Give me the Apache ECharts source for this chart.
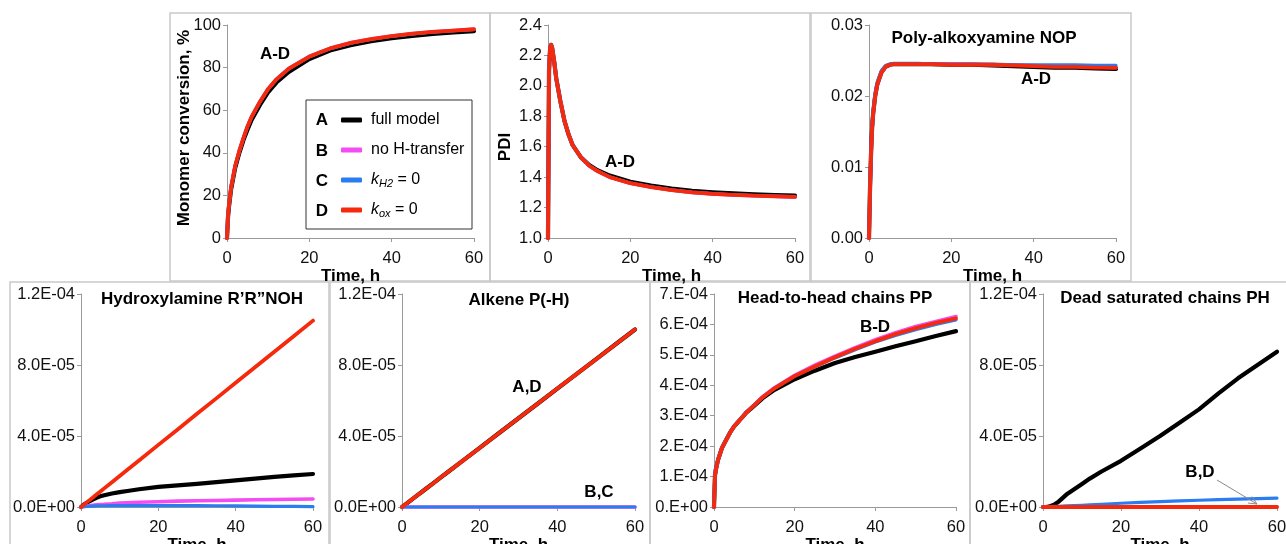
<!DOCTYPE html>
<html>
<head>
<meta charset="utf-8">
<script src="https://cdn.jsdelivr.net/npm/echarts@6/dist/echarts.min.js"></script>
<style>
html,body{margin:0;padding:0;background:#fff;}
#c{width:1286px;height:544px;}
</style>
</head>
<body>
<div id="c"></div>
<script>
// ---- data ----
const timeH = [0, 0.25, 0.5, 0.75, 1, 1.5, 2, 3, 4, 5, 6, 8, 10, 12, 15, 20, 25, 30, 35, 40, 45, 50, 55, 60];
const seriesNames = ['full model', 'no H-transfer', 'kH2 = 0', 'kox = 0'];
const seriesLetters = ['A', 'B', 'C', 'D'];

// Monomer conversion, %
const convA = [0, 10, 15, 19, 23, 28, 33, 40, 46, 51, 55.5, 62.5, 68.5, 73, 78, 84, 88, 90.5, 92.4, 93.8, 94.9, 95.8, 96.5, 97.1];
const convB = [0, 11, 16, 20, 24, 29, 34, 41, 47, 52.5, 57, 64, 70, 74.5, 79.5, 85.2, 89, 91.6, 93.4, 94.8, 95.9, 96.8, 97.4, 98];
const convC = [0, 11, 16, 20, 24, 29, 34, 41, 47, 52.5, 57, 64, 70, 74.5, 79.5, 85.1, 88.9, 91.5, 93.3, 94.7, 95.8, 96.7, 97.3, 97.9];
const convD = [0, 11, 16, 20, 24, 29, 34, 41, 47, 52.5, 57, 64, 70, 74.5, 79.5, 85.2, 89, 91.6, 93.4, 94.8, 95.9, 96.8, 97.4, 98];

// PDI
const pdiA = [1.0, 2.1, 2.24, 2.27, 2.25, 2.16, 2.05, 1.9, 1.77, 1.68, 1.61, 1.53, 1.48, 1.445, 1.41, 1.37, 1.345, 1.325, 1.31, 1.3, 1.293, 1.287, 1.282, 1.278];
const pdiB = [1.0, 2.1, 2.24, 2.27, 2.25, 2.16, 2.05, 1.9, 1.77, 1.68, 1.61, 1.53, 1.475, 1.44, 1.4, 1.36, 1.335, 1.315, 1.3, 1.29, 1.283, 1.278, 1.274, 1.27];
const pdiC = [1.0, 2.1, 2.24, 2.27, 2.25, 2.16, 2.05, 1.9, 1.77, 1.68, 1.61, 1.53, 1.475, 1.44, 1.4, 1.36, 1.335, 1.315, 1.3, 1.29, 1.283, 1.278, 1.274, 1.27];
const pdiD = [1.0, 2.1, 2.24, 2.27, 2.25, 2.16, 2.05, 1.9, 1.77, 1.68, 1.61, 1.53, 1.475, 1.44, 1.4, 1.36, 1.335, 1.315, 1.3, 1.29, 1.283, 1.278, 1.274, 1.27];

// Poly-alkoxyamine NOP
const nopA = [0, 0.007, 0.012, 0.0155, 0.0175, 0.02, 0.0216, 0.0233, 0.0241, 0.0244, 0.0245, 0.0245, 0.0245, 0.0245, 0.0245, 0.0244, 0.0244, 0.0243, 0.0242, 0.0241, 0.024, 0.024, 0.0239, 0.0238];
const nopB = [0, 0.007, 0.012, 0.0155, 0.0175, 0.02, 0.0216, 0.0233, 0.0241, 0.0244, 0.0245, 0.0245, 0.0245, 0.0245, 0.0245, 0.0245, 0.0245, 0.0244, 0.0244, 0.0243, 0.0242, 0.0242, 0.0241, 0.024];
const nopC = [0, 0.0075, 0.0125, 0.016, 0.018, 0.0205, 0.022, 0.0236, 0.0243, 0.0245, 0.0246, 0.0246, 0.0246, 0.0246, 0.0245, 0.0245, 0.0245, 0.0245, 0.0244, 0.0244, 0.0244, 0.0244, 0.0243, 0.0243];
const nopD = [0, 0.007, 0.012, 0.0155, 0.0175, 0.02, 0.0216, 0.0233, 0.0241, 0.0244, 0.0245, 0.0245, 0.0245, 0.0245, 0.0245, 0.0244, 0.0244, 0.0244, 0.0243, 0.0242, 0.0241, 0.0241, 0.024, 0.024];

// Hydroxylamine R'R"NOH
const hydA = [0, 0.04e-5, 0.09e-5, 0.14e-5, 0.18e-5, 0.24e-5, 0.3e-5, 0.42e-5, 0.52e-5, 0.6e-5, 0.66e-5, 0.76e-5, 0.84e-5, 0.9e-5, 1.0e-5, 1.13e-5, 1.22e-5, 1.3e-5, 1.4e-5, 1.5e-5, 1.6e-5, 1.7e-5, 1.78e-5, 1.86e-5];
const hydB = [0, 0.01e-5, 0.02e-5, 0.03e-5, 0.05e-5, 0.06e-5, 0.08e-5, 0.1e-5, 0.12e-5, 0.14e-5, 0.15e-5, 0.18e-5, 0.22e-5, 0.24e-5, 0.27e-5, 0.3e-5, 0.33e-5, 0.35e-5, 0.37e-5, 0.39e-5, 0.41e-5, 0.42e-5, 0.44e-5, 0.45e-5];
const hydC = [0, 0.01e-5, 0.01e-5, 0.02e-5, 0.02e-5, 0.03e-5, 0.04e-5, 0.05e-5, 0.06e-5, 0.07e-5, 0.07e-5, 0.08e-5, 0.08e-5, 0.08e-5, 0.08e-5, 0.08e-5, 0.08e-5, 0.08e-5, 0.07e-5, 0.06e-5, 0.05e-5, 0.04e-5, 0.03e-5, 0.02e-5];
const hydD = [0, 0.04e-5, 0.09e-5, 0.13e-5, 0.18e-5, 0.26e-5, 0.35e-5, 0.52e-5, 0.7e-5, 0.87e-5, 1.05e-5, 1.4e-5, 1.75e-5, 2.1e-5, 2.62e-5, 3.5e-5, 4.37e-5, 5.25e-5, 6.12e-5, 7.0e-5, 7.87e-5, 8.75e-5, 9.62e-5, 10.5e-5];

// Alkene P(-H)
const alkA = [0, 0.04e-5, 0.08e-5, 0.12e-5, 0.16e-5, 0.25e-5, 0.33e-5, 0.5e-5, 0.67e-5, 0.83e-5, 1.0e-5, 1.33e-5, 1.67e-5, 2.0e-5, 2.5e-5, 3.33e-5, 4.17e-5, 5.0e-5, 5.83e-5, 6.67e-5, 7.5e-5, 8.33e-5, 9.17e-5, 10.0e-5];
const alkB = [0, 0, 0, 0, 0, 0, 0, 0, 0, 0, 0, 0, 0, 0, 0, 0, 0, 0, 0, 0, 0, 0, 0, 0];
const alkC = [0, 0, 0, 0, 0, 0, 0, 0, 0, 0, 0, 0, 0, 0, 0, 0, 0, 0, 0, 0, 0, 0, 0, 0];
const alkD = [0, 0.04e-5, 0.08e-5, 0.12e-5, 0.16e-5, 0.25e-5, 0.33e-5, 0.5e-5, 0.67e-5, 0.83e-5, 1.0e-5, 1.33e-5, 1.67e-5, 2.0e-5, 2.5e-5, 3.33e-5, 4.17e-5, 5.0e-5, 5.83e-5, 6.67e-5, 7.5e-5, 8.33e-5, 9.17e-5, 10.0e-5];

// Head-to-head chains PP
const ppA = [0, 1.05e-4, 1.25e-4, 1.4e-4, 1.55e-4, 1.75e-4, 1.95e-4, 2.2e-4, 2.45e-4, 2.65e-4, 2.8e-4, 3.1e-4, 3.33e-4, 3.57e-4, 3.85e-4, 4.2e-4, 4.48e-4, 4.73e-4, 4.93e-4, 5.1e-4, 5.28e-4, 5.45e-4, 5.62e-4, 5.78e-4];
const ppB = [0, 1.05e-4, 1.25e-4, 1.4e-4, 1.55e-4, 1.75e-4, 1.95e-4, 2.2e-4, 2.45e-4, 2.65e-4, 2.8e-4, 3.1e-4, 3.36e-4, 3.62e-4, 3.92e-4, 4.33e-4, 4.66e-4, 4.96e-4, 5.24e-4, 5.5e-4, 5.73e-4, 5.93e-4, 6.1e-4, 6.26e-4];
const ppC = [0, 1.2e-4, 1.32e-4, 1.45e-4, 1.58e-4, 1.78e-4, 1.97e-4, 2.22e-4, 2.46e-4, 2.66e-4, 2.81e-4, 3.1e-4, 3.36e-4, 3.6e-4, 3.9e-4, 4.3e-4, 4.61e-4, 4.9e-4, 5.17e-4, 5.42e-4, 5.64e-4, 5.83e-4, 6.0e-4, 6.15e-4];
const ppD = [0, 1.05e-4, 1.25e-4, 1.4e-4, 1.55e-4, 1.75e-4, 1.95e-4, 2.2e-4, 2.45e-4, 2.65e-4, 2.8e-4, 3.1e-4, 3.35e-4, 3.6e-4, 3.9e-4, 4.3e-4, 4.62e-4, 4.92e-4, 5.2e-4, 5.45e-4, 5.68e-4, 5.88e-4, 6.05e-4, 6.2e-4];

// Dead saturated chains PH
const phA = [0, 0, 0, 0, 0, 0.02e-5, 0.05e-5, 0.15e-5, 0.3e-5, 0.5e-5, 0.7e-5, 1.0e-5, 1.3e-5, 1.6e-5, 2.0e-5, 2.6e-5, 3.3e-5, 4.0e-5, 4.75e-5, 5.5e-5, 6.4e-5, 7.25e-5, 8.0e-5, 8.75e-5];
const phB = [0, 0, 0, 0, 0, 0, 0, 0, 0, 0, 0, 0, 0, 0, 0, 0, 0, 0, 0, 0, 0, 0, 0, 0];
const phC = [0, 0, 0.01e-5, 0.01e-5, 0.01e-5, 0.02e-5, 0.02e-5, 0.03e-5, 0.04e-5, 0.05e-5, 0.06e-5, 0.08e-5, 0.1e-5, 0.12e-5, 0.15e-5, 0.21e-5, 0.26e-5, 0.3e-5, 0.34e-5, 0.38e-5, 0.41e-5, 0.44e-5, 0.47e-5, 0.5e-5];
const phD = [0, 0, 0, 0, 0, 0, 0, 0, 0, 0, 0, 0, 0, 0, 0, 0, 0, 0, 0, 0, 0, 0, 0, 0];

// tick labels
const xTicks = ['0', '20', '40', '60'];
const yTicksConv = ['0', '20', '40', '60', '80', '100'];
const yTicksPdi = ['1.0', '1.2', '1.4', '1.6', '1.8', '2.0', '2.2', '2.4'];
const yTicksNop = ['0.00', '0.01', '0.02', '0.03'];
const yTicksE4 = ['0.0E+00', '4.0E-05', '8.0E-05', '1.2E-04'];
const yTicksPP = ['0.E+00', '1.E-04', '2.E-04', '3.E-04', '4.E-04', '5.E-04', '6.E-04', '7.E-04'];

// titles / annotations
const panelTitles = ['', '', 'Poly-alkoxyamine NOP', 'Hydroxylamine R\u2019R\u201dNOH', 'Alkene P(-H)', 'Head-to-head chains PP', 'Dead saturated chains PH'];

// ---- layout / style ----
const FONT = "'Liberation Sans', Arial, Helvetica, sans-serif";
const TICKFONT = FONT;
const colors = ['#000000', '#f24cf2', '#2a7df0', '#f5290c'];
const widths = [4.2, 3.6, 3.2, 3.8];

const panels = [
  { grid: {left: 227, top: 25, width: 247, height: 213}, min: 0, max: 100, interval: 20, ticks: yTicksConv, data: [convA, convB, convC, convD] },
  { grid: {left: 548, top: 25, width: 247, height: 213}, min: 1.0, max: 2.4, interval: 0.2, ticks: yTicksPdi, data: [pdiA, pdiB, pdiC, pdiD] },
  { grid: {left: 869, top: 25, width: 247, height: 213}, min: 0, max: 0.03, interval: 0.01, ticks: yTicksNop, data: [nopA, nopB, nopC, nopD] },
  { grid: {left: 81, top: 294, width: 232, height: 213}, min: 0, max: 1.2e-4, interval: 4e-5, ticks: yTicksE4, data: [hydA, hydB, hydC, hydD] },
  { grid: {left: 402, top: 294, width: 233, height: 213}, min: 0, max: 1.2e-4, interval: 4e-5, ticks: yTicksE4, data: [alkA, alkB, alkC, alkD] },
  { grid: {left: 714, top: 294, width: 242, height: 213}, min: 0, max: 7e-4, interval: 1e-4, ticks: yTicksPP, data: [ppA, ppB, ppC, ppD] },
  { grid: {left: 1043, top: 294, width: 234, height: 213}, min: 0, max: 1.2e-4, interval: 4e-5, ticks: yTicksE4, data: [phA, phB, phC, phD] }
];

const axisLineStyle = { lineStyle: { color: '#9a9a9a', width: 1 } };
const grids = [], xAxes = [], yAxes = [], series = [];
panels.forEach((p, i) => {
  grids.push(Object.assign({ outerBoundsMode: 'none', containLabel: false }, p.grid));
  xAxes.push({
    type: 'value', gridIndex: i, min: 0, max: 60, interval: 20,
    axisLine: Object.assign({ show: true, onZero: false }, axisLineStyle),
    axisTick: { show: true, inside: false, length: 4, lineStyle: { color: '#9a9a9a' } },
    splitLine: { show: false },
    axisLabel: { margin: 12, fontFamily: TICKFONT, fontSize: 16.5, color: '#111', formatter: v => xTicks[Math.round(v / 20)] },
    name: 'Time, h', nameLocation: 'middle', nameGap: 31,
    nameTextStyle: { fontFamily: FONT, fontSize: 17, fontWeight: 'bold', color: '#000', verticalAlign: 'middle' }
  });
  yAxes.push({
    type: 'value', gridIndex: i, min: p.min, max: p.max, interval: p.interval,
    axisLine: Object.assign({ show: true, onZero: false }, axisLineStyle),
    axisTick: { show: true, inside: false, length: 4, lineStyle: { color: '#9a9a9a' } },
    splitLine: { show: false },
    axisLabel: { margin: 6, fontFamily: TICKFONT, fontSize: 16.5, color: '#111',
      formatter: v => p.ticks[Math.round((v - p.min) / p.interval)] }
  });
  p.data.forEach((arr, k) => {
    series.push({
      type: 'line', name: seriesNames[k], xAxisIndex: i, yAxisIndex: i,
      data: timeH.map((x, j) => [x, arr[j]]),
      showSymbol: false, symbol: 'none', clip: false, animation: false,
      lineStyle: { color: colors[k], width: widths[k], cap: 'round', join: 'round' },
      itemStyle: { color: colors[k] },
      z: 2 + k
    });
  });
});

const boldText = (x, y, text, extra) => Object.assign({
  type: 'text', x: x, y: y, z: 10,
  style: { text: text, fontFamily: FONT, fontSize: 17, fontWeight: 'bold', fill: '#000', align: 'center', verticalAlign: 'middle' }
}, extra || {});

const boxStyle = { fill: 'none', stroke: '#c9c9c9', lineWidth: 1.5 };
const graphics = [
  { type: 'rect', shape: { x: 170, y: 13, width: 320, height: 268 }, style: boxStyle, z: 0 },
  { type: 'rect', shape: { x: 490, y: 13, width: 320, height: 268 }, style: boxStyle, z: 0 },
  { type: 'rect', shape: { x: 811, y: 13, width: 320, height: 268 }, style: boxStyle, z: 0 },
  { type: 'rect', shape: { x: 10, y: 282, width: 319, height: 280 }, style: boxStyle, z: 0 },
  { type: 'rect', shape: { x: 330, y: 282, width: 320, height: 280 }, style: boxStyle, z: 0 },
  { type: 'rect', shape: { x: 650, y: 282, width: 320, height: 280 }, style: boxStyle, z: 0 },
  { type: 'rect', shape: { x: 970, y: 282, width: 330, height: 280 }, style: boxStyle, z: 0 },
  // legend box
  { type: 'rect', shape: { x: 306, y: 100, width: 166, height: 129 }, style: { fill: '#fff', stroke: '#333', lineWidth: 1 }, z: 1 },
  // y-axis names
  boldText(184, 128, 'Monomer conversion, %', { rotation: Math.PI / 2 }),
  boldText(505, 147, 'PDI', { rotation: Math.PI / 2 }),
  // titles
  boldText(984, 38, panelTitles[2]),
  boldText(202, 299, panelTitles[3]),
  boldText(519, 300, panelTitles[4]),
  boldText(835, 298, panelTitles[5]),
  boldText(1165, 298, panelTitles[6]),
  // annotations
  boldText(275, 54, 'A-D'),
  boldText(620, 162, 'A-D'),
  boldText(1036, 79, 'A-D'),
  boldText(527, 387, 'A,D'),
  boldText(599, 492, 'B,C'),
  boldText(875, 327, 'B-D'),
  boldText(1200, 472, 'B,D'),
  { type: 'line', shape: { x1: 1217, y1: 480, x2: 1257, y2: 504 }, style: { stroke: '#8a8a8a', lineWidth: 1 }, z: 10 },
  { type: 'polyline', shape: { points: [[1248, 503], [1257, 504], [1252, 496.5]] }, style: { stroke: '#8a8a8a', lineWidth: 1, fill: 'none' }, z: 10 }
];
// legend letters
[120, 151, 181, 211].forEach((y, k) => graphics.push(boldText(322, y, seriesLetters[k])));

const legendLabels = {
  'full model': '{sp|}{t|full model}',
  'no H-transfer': '{sp|}{t|no H-transfer}',
  'kH2 = 0': '{sp|}{k|k}{s|H2}{t| = 0}',
  'kox = 0': '{sp|}{k|k}{s|ox}{t| = 0}'
};

const chart = echarts.init(document.getElementById('c'), null, { renderer: 'canvas' });
chart.setOption({
  animation: false,
  backgroundColor: '#fff',
  grid: grids, xAxis: xAxes, yAxis: yAxes, series: series,
  legend: {
    data: seriesNames, orient: 'vertical', left: 341, top: 111, padding: 0,
    itemWidth: 21, itemHeight: 5, itemGap: 12, icon: 'roundRect',
    selectedMode: false, z: 5,
    formatter: n => legendLabels[n],
    textStyle: {
      fontFamily: FONT, fontSize: 16, color: '#000', lineHeight: 18,
      rich: {
        sp: { width: 4 },
        t: { fontFamily: FONT, fontSize: 16, color: '#000', lineHeight: 18 },
        k: { fontFamily: FONT, fontSize: 16, fontStyle: 'italic', color: '#000', lineHeight: 18 },
        s: { fontFamily: FONT, fontSize: 11, fontStyle: 'italic', color: '#000', lineHeight: 10, verticalAlign: 'bottom' }
      }
    }
  },
  graphic: graphics
});
</script>
</body>
</html>
